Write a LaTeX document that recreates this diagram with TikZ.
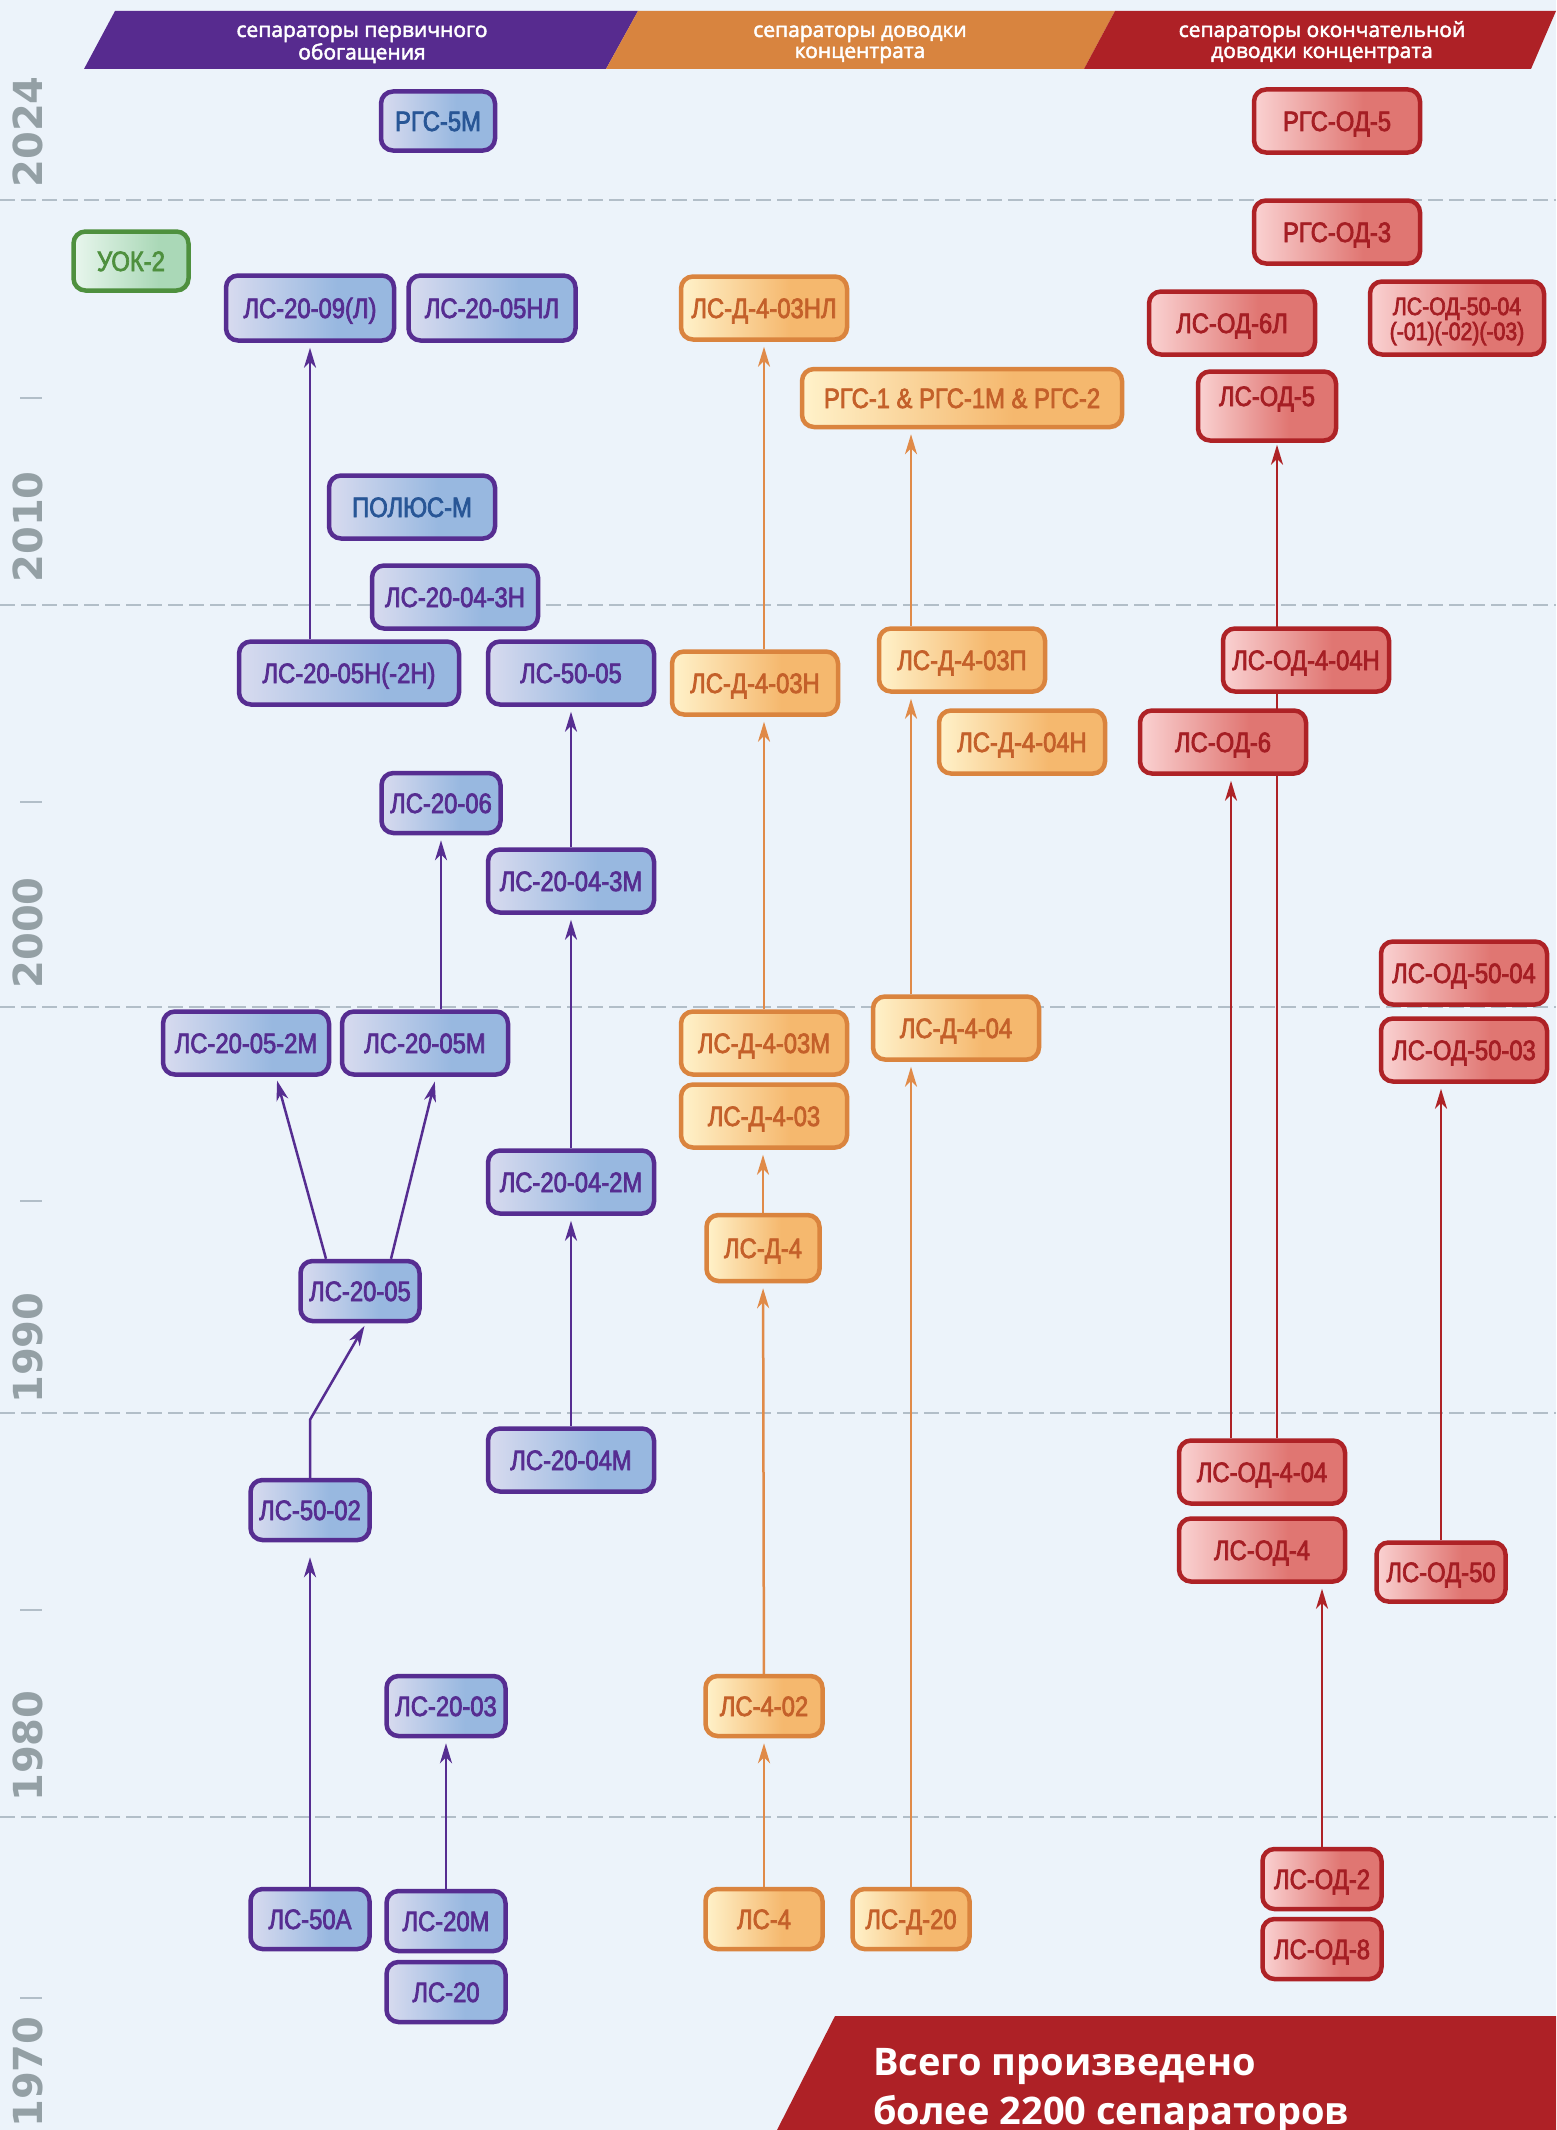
\documentclass[tikz,border=0pt]{standalone}
\usepackage{fontspec}
\usepackage{xcolor}
\usepackage{tikz}
\usetikzlibrary{arrows,arrows.meta,shapes}

\newfontfamily\boxfont{Liberation Sans}[FakeStretch=0.85]
\newfontfamily\headfont{Open Sans}
\newfontfamily\yearfont{DejaVu Sans}
% heavier strokes for the labels
\newcommand\thickon[1]{\special{pdf:literal direct 2 Tr #1 w}}
\newcommand\thickoff{\special{pdf:literal direct 0 Tr}}

\definecolor{bgblue}{RGB}{236,243,250}
\definecolor{purp}{RGB}{86,45,145}
\definecolor{purpL}{RGB}{216,219,239}
\definecolor{purpR}{RGB}{152,184,224}
\definecolor{bluetxt}{RGB}{40,86,150}
\definecolor{orng}{RGB}{218,132,62}
\definecolor{orngL}{RGB}{255,242,202}
\definecolor{orngR}{RGB}{245,184,110}
\definecolor{orngtxt}{RGB}{196,96,42}
\definecolor{orngline}{RGB}{224,138,72}
\definecolor{redd}{RGB}{174,34,38}
\definecolor{reddL}{RGB}{250,210,210}
\definecolor{reddR}{RGB}{224,118,114}
\definecolor{reddtxt}{RGB}{165,30,36}
\definecolor{grn}{RGB}{78,144,62}
\definecolor{grnL}{RGB}{232,246,237}
\definecolor{grnR}{RGB}{170,216,183}
\definecolor{yeargray}{RGB}{148,160,165}
\definecolor{dashgray}{RGB}{178,190,200}
\definecolor{barpurp}{RGB}{87,43,143}
\definecolor{barorng}{RGB}{216,132,63}
\definecolor{barred}{RGB}{174,33,38}

\pgfdeclarehorizontalshading{purpshade}{100bp}{color(0bp)=(purpL); color(25bp)=(purpL); color(58bp)=(purpR); color(100bp)=(purpR)}
\pgfdeclarehorizontalshading{orngshade}{100bp}{color(0bp)=(orngL); color(25bp)=(orngL); color(58bp)=(orngR); color(100bp)=(orngR)}
\pgfdeclarehorizontalshading{reddshade}{100bp}{color(0bp)=(reddL); color(25bp)=(reddL); color(58bp)=(reddR); color(100bp)=(reddR)}
\pgfdeclarehorizontalshading{grnshade}{100bp}{color(0bp)=(grnL); color(25bp)=(grnL); color(62bp)=(grnR); color(100bp)=(grnR)}

\pgfdeclarelayer{back}
\pgfdeclarelayer{links}
\pgfsetlayers{back,links,main}

\tikzset{
  box/.style={draw, shade, rounded corners=12pt, line width=4.5pt,
    minimum width=166pt, minimum height=63pt, inner sep=0pt,
    text height=20pt, text depth=0pt, font=\boxfont\fontsize{28}{30}\selectfont,
    execute at begin node=\thickon{0.7}, execute at end node=\thickoff},
  small/.style={minimum width=119pt, minimum height=60pt},
  purpbox/.style={box, draw=purp, shading=purpshade, text=purp},
  bluebox/.style={purpbox, text=bluetxt},
  orngbox/.style={box, draw=orng, shading=orngshade, text=orngtxt},
  redbox/.style={box, draw=redd, shading=reddshade, text=reddtxt},
  grnbox/.style={box, draw=grn, shading=grnshade, text=grn},
  link/.style={line width=2.5pt, -{Stealth[length=20pt,width=12pt,inset=6pt]}, shorten >=5pt},
  purplink/.style={link, draw=purp},
  orngline/.style={link, draw=orngline},
  reddlink/.style={link, draw=redd},
  yearlbl/.style={rotate=90, text=yeargray, inner sep=0pt, text height=29pt, text depth=0pt,
    font=\yearfont\bfseries\fontsize{40}{40}\selectfont},
  headlbl/.style={anchor=base, text=white, inner sep=0pt, font=\headfont\fontsize{21}{21}\selectfont,
    execute at begin node=\thickon{0.5}, execute at end node=\thickoff},
  decade/.style={draw=dashgray, line width=1.5pt, dash pattern=on 15pt off 6pt},
  tickmark/.style={draw=dashgray, line width=2pt}
}

\begin{document}
\begin{tikzpicture}[x=1pt,y=-1pt]
  \useasboundingbox (0,0) rectangle (1556,2130);
  \begin{pgfonlayer}{back}
    \fill[bgblue] (0,0) rectangle (1556,2130);
    \foreach \dy in {200,605,1007,1413,1817}
      \draw[decade] (0,\dy) -- (1556,\dy);
    \foreach \ty in {398,802,1201,1610,1998}
      \draw[tickmark] (20,\ty) -- (42,\ty);
  \end{pgfonlayer}

  % years
  \foreach \yr/\ypos in {2024/132, 2010/527, 2000/933, 1990/1348, 1980/1746, 1970/2072}
    \node[yearlbl] (y\yr) at (28,\ypos) {\yr};

  % headers
  \fill[barpurp] (115,11) -- (638,11) -- (606,69) -- (84,69) -- cycle;
  \fill[barorng] (638,11) -- (1115,11) -- (1084,69) -- (606,69) -- cycle;
  \fill[barred] (1115,11) -- (1556,11) -- (1531,69) -- (1084,69) -- cycle;
  \node[headlbl] (hprim) at (362,37) {\begin{tabular}[t]{@{}c@{}}сепараторы первичного\\обогащения\end{tabular}};
  \node[headlbl] (hdov) at (860,37) {\begin{tabular}[t]{@{}c@{}}сепараторы доводки\\концентрата\end{tabular}};
  \node[headlbl] (hfin) at (1322,37) {\begin{tabular}[t]{@{}c@{}}сепараторы окончательной\\доводки концентрата\end{tabular}};

  % primary
  \node[bluebox, minimum width=114pt, minimum height=59pt] (rgs5m) at (438,121) {РГС-5М};
  \node[grnbox, minimum width=115pt, minimum height=59pt] (uok2) at (131,261) {УОК-2};
  \node[purpbox, minimum width=168pt, minimum height=65pt] (ls2009) at (310,308) {ЛС-20-09(Л)};
  \node[purpbox, minimum width=167pt, minimum height=65pt] (ls2005nl) at (492,308) {ЛС-20-05НЛ};
  \node[bluebox] (polyus) at (412,507) {ПОЛЮС-М};
  \node[purpbox] (ls20043n) at (455,597) {ЛС-20-04-3Н};
  \node[purpbox, minimum width=220pt] (ls2005n) at (349,673) {ЛС-20-05Н(-2Н)};
  \node[purpbox] (ls5005) at (571,673) {ЛС-50-05};
  \node[purpbox, small] (ls2006) at (441,803) {ЛС-20-06};
  \node[purpbox] (ls20043m) at (571,881) {ЛС-20-04-3М};
  \node[purpbox] (ls20052m) at (246,1043) {ЛС-20-05-2М};
  \node[purpbox] (ls2005m) at (425,1043) {ЛС-20-05М};
  \node[purpbox] (ls20042m) at (571,1182) {ЛС-20-04-2М};
  \node[purpbox, small] (ls2005) at (360,1291) {ЛС-20-05};
  \node[purpbox] (ls2004m) at (571,1460) {ЛС-20-04М};
  \node[purpbox, small] (ls5002) at (310,1510) {ЛС-50-02};
  \node[purpbox, small] (ls2003) at (446,1706) {ЛС-20-03};
  \node[purpbox, small] (ls50a) at (310,1919) {ЛС-50А};
  \node[purpbox, small] (ls20m) at (446,1921) {ЛС-20М};
  \node[purpbox, small] (ls20) at (446,1992) {ЛС-20};

  % concentrate
  \node[orngbox] (ld403nl) at (764,308) {ЛС-Д-4-03НЛ};
  \node[orngbox, minimum width=320pt, minimum height=58pt] (rgs1) at (962,398) {РГС-1 \& РГС-1М \& РГС-2};
  \node[orngbox] (ld403n) at (755,683) {ЛС-Д-4-03Н};
  \node[orngbox] (ld403p) at (962,660) {ЛС-Д-4-03П};
  \node[orngbox] (ld404n) at (1022,742) {ЛС-Д-4-04Н};
  \node[orngbox] (ld404) at (956,1028) {ЛС-Д-4-04};
  \node[orngbox] (ld403m) at (764,1043) {ЛС-Д-4-03М};
  \node[orngbox] (ld403) at (764,1116) {ЛС-Д-4-03};
  \node[orngbox, minimum width=113pt, minimum height=66pt] (ld4) at (763,1248) {ЛС-Д-4};
  \node[orngbox, small, minimum width=117pt] (ls402) at (764,1706) {ЛС-4-02};
  \node[orngbox, small, minimum width=117pt] (ls4) at (764,1919) {ЛС-4};
  \node[orngbox, small, minimum width=117pt] (ld20) at (911,1919) {ЛС-Д-20};

  % final
  \node[redbox] (rod5) at (1337,121) {РГС-ОД-5};
  \node[redbox] (rod3) at (1337,232) {РГС-ОД-3};
  \node[redbox] (od6l) at (1232,323) {ЛС-ОД-6Л};
  \node[redbox, minimum width=174pt, minimum height=73pt, text height=17pt, text depth=23pt,
    font=\boxfont\fontsize{25}{23}\selectfont] (od5004x) at (1457,318)
    {\begin{tabular}[t]{@{}c@{}}ЛС-ОД-50-04\\(-01)(-02)(-03)\end{tabular}};
  \node[redbox, minimum width=138pt, minimum height=69pt, text depth=20pt] (od5) at (1267,406) {ЛС-ОД-5};
  \node[redbox] (od404n) at (1306,660) {ЛС-ОД-4-04Н};
  \node[redbox] (od6) at (1223,742) {ЛС-ОД-6};
  \node[redbox] (od5004) at (1464,973) {ЛС-ОД-50-04};
  \node[redbox] (od5003) at (1464,1050) {ЛС-ОД-50-03};
  \node[redbox] (od404) at (1262,1472) {ЛС-ОД-4-04};
  \node[redbox] (od4) at (1262,1550) {ЛС-ОД-4};
  \node[redbox, minimum width=129pt, minimum height=59pt] (od50) at (1441,1572) {ЛС-ОД-50};
  \node[redbox, small] (od2) at (1322,1879) {ЛС-ОД-2};
  \node[redbox, small] (od8) at (1322,1949) {ЛС-ОД-8};

  % total
  \fill[barred] (835,2016) -- (1556,2016) -- (1556,2130) -- (777,2130) -- cycle;
  \node[anchor=base west, text=white, inner sep=0pt, font=\headfont\bfseries\fontsize{38}{49}\selectfont]
    (total) at (873,2075) {\begin{tabular}[t]{@{}l@{}}Всего произведено\\более 2200 сепараторов\end{tabular}};

  \coordinate (pl) at ([xshift=-34pt]ls2005.north);
  \coordinate (pr) at ([xshift=31pt]ls2005.north);
  \coordinate (odl) at ([xshift=-31pt]od404.north);
  \coordinate (odr) at ([xshift=15pt]od404.north);

  \begin{pgfonlayer}{links}
    \draw[purplink, shorten >=15pt] (ls50a) -- (ls5002);
    \draw[purplink, shorten >=3pt] (ls5002.north) -- ++(0,-58) -- ([xshift=6pt]ls2005.south);
    \draw[purplink, shorten >=4pt] (pl) -- ([xshift=30pt]ls20052m.south);
    \draw[purplink] (pr) -- ([xshift=11pt]ls2005m.south);
    \draw[purplink] (ls2005m.north -| ls2006) -- (ls2006);
    \draw[purplink] (ls2005n.north -| ls2009) -- (ls2009);
    \draw[purplink] (ls20m) -- (ls2003);
    \draw[purplink] (ls2004m) -- (ls20042m);
    \draw[purplink] (ls20042m) -- (ls20043m);
    \draw[purplink] (ls20043m) -- (ls5005);

    \draw[orngline] (ls4) -- (ls402);
    \draw[orngline] (ls402) -- (ld4);
    \draw[orngline] (ld4) -- (ld4 |- ld403.south);
    \draw[orngline] (ld403m) -- (ld403m |- ld403n.south);
    \draw[orngline] (ld403n.north -| ld403nl) -- (ld403nl);
    \draw[orngline] (ld20) -- (ld20 |- ld404.south);
    \draw[orngline] (ld404.north -| ld20) -- (ld20 |- ld403p.south);
    \draw[orngline] (ld403p.north -| ld20) -- (ld20 |- rgs1.south);

    \draw[reddlink] (od2) -- (od2 |- od4.south);
    \draw[reddlink] (odl) -- (odl |- od6.south);
    \draw[reddlink, shorten >=2pt] (odr) -- (odr |- od5.south);
    \draw[reddlink] (od50) -- (od50 |- od5003.south);
  \end{pgfonlayer}
\end{tikzpicture}
\end{document}
